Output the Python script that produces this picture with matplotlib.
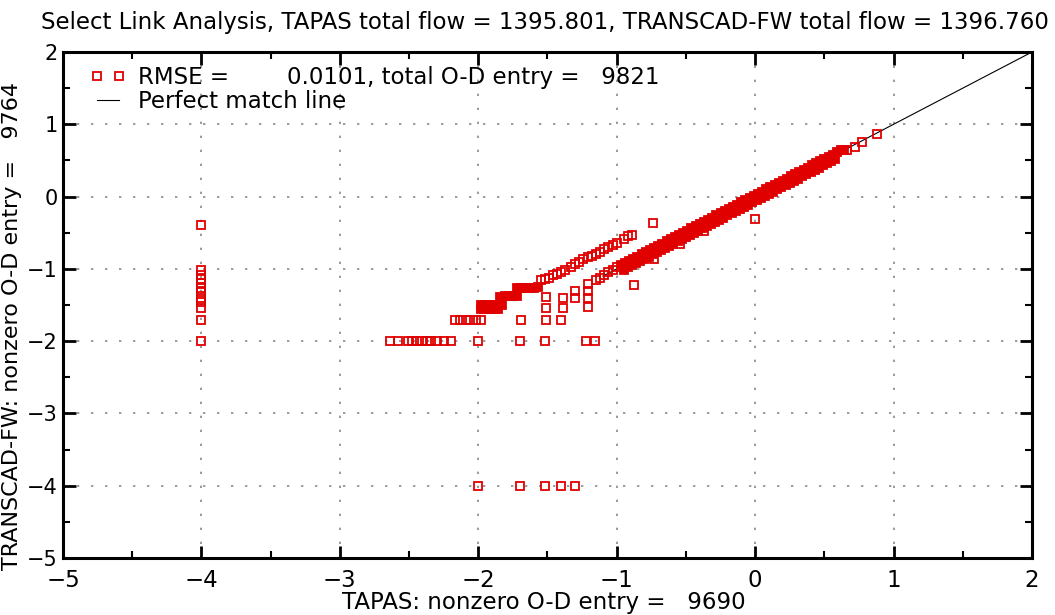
import numpy as np
import matplotlib.pyplot as plt
from matplotlib.lines import Line2D
from matplotlib.legend_handler import HandlerLine2D

# points (x = TAPAS, y = TRANSCAD-FW)
col4_x = [-4.0] * 12
col4_y = [-0.40, -1.02, -1.08, -1.14, -1.20, -1.26, -1.32, -1.40, -1.46, -1.54, -1.71, -2.00]

row2_x = [-2.64, -2.58, -2.51, -2.48, -2.44, -2.41, -2.37, -2.34, -2.30, -2.25, -2.20,
          -2.00, -1.70, -1.52, -1.22, -1.16]
row2_y = [-2.0] * 16

row4_x = [-2.00, -1.70, -1.52, -1.40, -1.30]
row4_y = [-4.0] * 5

row17_x = [-2.17, -2.13, -2.09, -2.06, -2.02, -1.98, -1.69, -1.51, -1.40]
row17_y = [-1.71] * 9

other_x = [-1.51, -1.39, -1.21, -1.51, -1.39, -1.30, -1.21, -1.30, -1.21, -1.21, -0.875,
           -0.74, 0.00, -0.37, -0.54, -0.73]
other_y = [-1.54, -1.54, -1.53, -1.39, -1.40, -1.40, -1.40, -1.30, -1.30, -1.21, -1.22,
           -0.36, -0.31, -0.48, -0.65, -0.86]

# upper branch: flat steps (dense) then the rising part
steps_x = [-1.98, -1.95, -1.92, -1.89, -1.86, -1.83, -1.98, -1.95, -1.92, -1.89, -1.86,
           -1.84, -1.81, -1.78, -1.75, -1.72, -1.72, -1.69, -1.66, -1.63, -1.60, -1.57]
steps_y = [-1.50, -1.50, -1.50, -1.50, -1.50, -1.50, -1.56, -1.56, -1.56, -1.56, -1.56,
           -1.39, -1.38, -1.38, -1.38, -1.37, -1.27, -1.27, -1.26, -1.26, -1.26, -1.25]
upper_x = [-1.55, -1.52, -1.49, -1.46, -1.43, -1.40, -1.37, -1.33, -1.30, -1.27, -1.24,
           -1.21, -1.18, -1.15, -1.12, -1.09, -1.06, -1.03, -1.00, -0.95, -0.92, -0.89]
upper_y = [-1.16, -1.14, -1.12, -1.09, -1.07, -1.04, -1.01, -0.97, -0.93, -0.90, -0.86,
           -0.84, -0.82, -0.79, -0.77, -0.73, -0.70, -0.67, -0.64, -0.59, -0.55, -0.53]

# sparse start of the diagonal branch and the tail past the dense band
lowstart_x = [-1.15, -1.12, -1.09, -1.06, -1.03, -1.00, 0.66, 0.72, 0.77, 0.88]
lowstart_y = [-1.16, -1.12, -1.09, -1.05, -1.02, -0.98, 0.65, 0.69, 0.75, 0.87]

# dense band along the diagonal (two rows)
band_x = [-0.97, -0.94, -0.91, -0.88, -0.85, -0.82, -0.79, -0.76, -0.73, -0.70, -0.67,
          -0.64, -0.61, -0.58, -0.55, -0.52, -0.49, -0.46, -0.43, -0.40, -0.37, -0.34,
          -0.31, -0.28, -0.25, -0.22, -0.19, -0.16, -0.13, -0.10, -0.07, -0.04, -0.01,
          0.02, 0.05, 0.08, 0.11, 0.14, 0.17, 0.20, 0.23, 0.26, 0.29, 0.32, 0.35, 0.38,
          0.41, 0.44, 0.47, 0.50, 0.53, 0.56, 0.59, 0.62, 0.64]
band_y = [-0.95, -0.92, -0.89, -0.86, -0.83, -0.80, -0.77, -0.74, -0.71, -0.68, -0.65,
          -0.62, -0.59, -0.56, -0.53, -0.50, -0.47, -0.44, -0.41, -0.38, -0.35, -0.32,
          -0.29, -0.26, -0.23, -0.20, -0.17, -0.14, -0.11, -0.08, -0.05, -0.02, 0.01,
          0.04, 0.07, 0.10, 0.13, 0.16, 0.19, 0.22, 0.25, 0.28, 0.31, 0.34, 0.37, 0.40,
          0.43, 0.46, 0.49, 0.52, 0.55, 0.58, 0.61, 0.64, 0.65]
band2_x = [-0.95, -0.92, -0.89, -0.86, -0.83, -0.80, -0.77, -0.74, -0.71, -0.68, -0.65,
           -0.62, -0.59, -0.56, -0.53, -0.50, -0.47, -0.44, -0.41, -0.38, -0.35, -0.32,
           -0.29, -0.26, -0.23, -0.20, -0.17, -0.14, -0.11, -0.08, -0.05, -0.02, 0.01,
           0.04, 0.07, 0.10, 0.13, 0.16, 0.19, 0.22, 0.25, 0.28, 0.31, 0.34, 0.37, 0.40,
           0.43, 0.46, 0.49, 0.52, 0.55, 0.58]
band2_y = [-1.01, -0.98, -0.95, -0.92, -0.89, -0.86, -0.83, -0.80, -0.77, -0.74, -0.71,
           -0.68, -0.65, -0.62, -0.59, -0.56, -0.53, -0.50, -0.47, -0.44, -0.41, -0.38,
           -0.35, -0.32, -0.29, -0.26, -0.23, -0.20, -0.17, -0.14, -0.11, -0.08, -0.05,
           -0.02, 0.01, 0.04, 0.07, 0.10, 0.13, 0.16, 0.19, 0.22, 0.25, 0.28, 0.31, 0.34,
           0.37, 0.40, 0.43, 0.46, 0.49, 0.52]

line_x = [-1.1, 2.0]

RED = '#e00000'
sparse_x = np.concatenate([col4_x, row2_x, row4_x, row17_x, other_x, upper_x, lowstart_x])
sparse_y = np.concatenate([col4_y, row2_y, row4_y, row17_y, other_y, upper_y, lowstart_y])
dense_x = np.concatenate([steps_x, band_x, band2_x])
dense_y = np.concatenate([steps_y, band_y, band2_y])

plt.rcParams['font.family'] = 'DejaVu Sans'
FS = 16.5
fig = plt.figure(figsize=(10.55, 6.15), dpi=100)
ax = fig.add_axes([63/1055, 1 - 558/615, (1032 - 63)/1055, (558 - 52)/615])

ax.plot(line_x, line_x, color='black', lw=0.8, label='Perfect match line', zorder=2)
ax.plot(sparse_x, sparse_y, ls='none', marker='s', ms=5.5, mfc='none', mec=RED, mew=1.3,
        label='RMSE =        0.0101, total O-D entry =   9821', zorder=3)
ax.plot(dense_x, dense_y, ls='none', marker='s', ms=5.5, mfc=RED, mec=RED, mew=1.3,
        zorder=3)

ax.set_xlim(-5, 2)
ax.set_ylim(-5, 2)
ax.set_xticks(range(-5, 3))
ax.set_yticks(range(-5, 3))
ax.set_xticks(np.arange(-5, 2.5, 0.5), minor=True)
ax.set_yticks(np.arange(-5, 2.5, 0.5), minor=True)
ax.tick_params(which='major', direction='in', length=9, width=2, top=True, right=True,
               labelsize=FS, colors='black', pad=8)
ax.tick_params(axis='y', which='major', labelsize=15, pad=4)
ax.tick_params(which='minor', direction='in', length=5, width=1.5, top=True, right=True)
for s in ax.spines.values():
    s.set_linewidth(2.2)
ax.grid(True, which='major', color='#9a9a9a', ls=(0, (1.2, 6)), lw=1.4)

h, l = ax.get_legend_handles_labels()
ax.legend(h[::-1], l[::-1], loc='upper left', frameon=False, fontsize=FS, numpoints=2,
          handlelength=0.95, handletextpad=0.85, borderaxespad=0.2, labelspacing=0.05,
          bbox_to_anchor=(0.021, 1.0),
          handler_map={Line2D: HandlerLine2D(marker_pad=0)})

fig.text(545/1055, 1 - 22/615, 'Select Link Analysis, TAPAS total flow = 1395.801, '
         'TRANSCAD-FW total flow = 1396.760', ha='center', va='center', fontsize=FS)
fig.text(544/1055, 1 - 603/615, 'TAPAS: nonzero O-D entry =   9690',
         ha='center', va='center', fontsize=FS)
fig.text(12/1055, 1 - 326/615, 'TRANSCAD-FW: nonzero O-D entry =   9764',
         ha='center', va='center', rotation=90, fontsize=16)

fig.savefig('out.png', dpi=100)
